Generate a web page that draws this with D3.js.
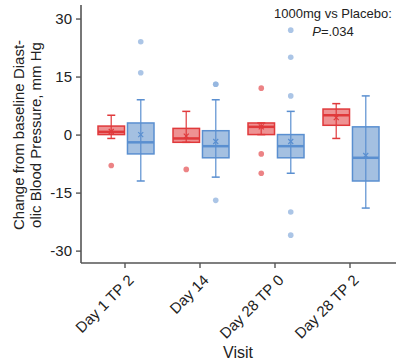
<!DOCTYPE html>
<html>
<head>
<meta charset="utf-8">
<script src="https://cdn.jsdelivr.net/npm/d3@7"></script>
<style>
  body { margin: 0; background: #fff; }
  svg text { font-family: "Liberation Sans", Arial, sans-serif; fill: #222; }
</style>
</head>
<body>
<div id="chart"></div>
<script>
var visits = ["Day 1 TP 2", "Day 14", "Day 28 TP 0", "Day 28 TP 2"]
var groups = ["1000mg", "Placebo"]
var yTicks = [-30, -15, 0, 15, 30]

// 1000mg (red) box stats per visit
var doseLow    = [-1, -2, 0, -1]
var doseQ1     = [0, -2, 0, 2.4]
var doseMedian = [0.7, -1, 2, 5]
var doseQ3     = [2.2, 1.6, 3, 6.6]
var doseHigh   = [5, 6, 3, 8]
var doseMean   = [0.8, -0.4, 2, 4.4]
var doseOut    = [[-8], [-9], [12, -5, -10], []]

// Placebo (blue) box stats per visit
var placLow    = [-12, -11, -10, -19]
var placQ1     = [-5, -6, -6, -12]
var placMedian = [-2, -3, -3, -6]
var placQ3     = [3, 1, 0, 2]
var placHigh   = [9, 9, 6, 10]
var placMean   = [0, -1.8, -1.8, -5.4]
var placOut    = [[24, 16], [13, 13, -17], [27, 20, 10, -20, -26], []]

var width = 410, height = 361

var svg = d3.select("#chart").append("svg")
    .attr("width", width)
    .attr("height", height)

var x = d3.scaleBand().domain(visits).range([87.5, 387.5])
var xSub = d3.scaleBand().domain(groups).range([-27, 29]).paddingInner(0.1)
var y = d3.scaleLinear().domain([-33.2, 33.5]).range([263, 5])

var colors = {
  "1000mg": { stroke: "#e0393b", fill: "rgba(224,57,59,0.55)", dot: "#e55a5c" },
  "Placebo": { stroke: "#5a8fd0", fill: "rgba(90,140,200,0.55)", dot: "#8fb2dd" }
}

function boxes(g) {
  var d = g == "1000mg"
    ? { lo: doseLow, q1: doseQ1, med: doseMedian, q3: doseQ3, hi: doseHigh, mean: doseMean, out: doseOut }
    : { lo: placLow, q1: placQ1, med: placMedian, q3: placQ3, hi: placHigh, mean: placMean, out: placOut }
  return visits.map(function(v, i) {
    return { visit: v, group: g, lo: d.lo[i], q1: d.q1[i], med: d.med[i], q3: d.q3[i],
             hi: d.hi[i], mean: d.mean[i], out: d.out[i] }
  })
}
var data = boxes("1000mg").concat(boxes("Placebo"))

function cx(d) { return x(d.visit) + x.bandwidth()/2 + xSub(d.group) + xSub.bandwidth()/2 }

var bw = xSub.bandwidth()
var capW = 8

var box = svg.selectAll("g.box")
    .data(data)
  .enter().append("g")
    .attr("class", "box")

box.append("rect")
    .attr("x", function(d) { return cx(d) - bw/2 })
    .attr("y", function(d) { return y(d.q3) })
    .attr("width", bw)
    .attr("height", function(d) { return Math.max(1, y(d.q1) - y(d.q3)) })
    .style("fill", function(d) { return colors[d.group].fill })
    .style("stroke", function(d) { return colors[d.group].stroke })
    .style("stroke-width", 1.5)

// whisker runs through the box
box.append("line")
    .attr("x1", cx).attr("x2", cx)
    .attr("y1", function(d) { return y(d.lo) })
    .attr("y2", function(d) { return y(d.hi) })
    .style("stroke", function(d) { return colors[d.group].stroke })
    .style("stroke-width", 1.5)
    .style("opacity", 0.8)

box.selectAll("line.cap")
    .data(function(d) { return [d.lo, d.hi].map(function(v) { return { v: v, d: d } }) })
  .enter().append("line")
    .attr("class", "cap")
    .attr("x1", function(c) { return cx(c.d) - capW/2 })
    .attr("x2", function(c) { return cx(c.d) + capW/2 })
    .attr("y1", function(c) { return y(c.v) })
    .attr("y2", function(c) { return y(c.v) })
    .style("stroke", function(c) { return colors[c.d.group].stroke })
    .style("stroke-width", 1.5)

box.append("line")
    .attr("x1", function(d) { return cx(d) - bw/2 })
    .attr("x2", function(d) { return cx(d) + bw/2 })
    .attr("y1", function(d) { return y(d.med) })
    .attr("y2", function(d) { return y(d.med) })
    .style("stroke", function(d) { return colors[d.group].stroke })
    .style("stroke-width", 2.5)

// mean as a little x
box.append("path")
    .attr("d", function(d) {
      var px = cx(d), py = y(d.mean), s = 2.5
      return "M"+(px-s)+","+(py-s)+"L"+(px+s)+","+(py+s)+"M"+(px-s)+","+(py+s)+"L"+(px+s)+","+(py-s)
    })
    .style("stroke", function(d) { return colors[d.group].stroke })
    .style("stroke-width", 1.2)

box.selectAll("circle.out")
    .data(function(d) { return d.out.map(function(v) { return { v: v, d: d } }) })
  .enter().append("circle")
    .attr("class", "out")
    .attr("cx", function(c) { return cx(c.d) })
    .attr("cy", function(c) { return y(c.v) })
    .attr("r", 2.8)
    .style("fill", function(c) { return colors[c.d.group].dot })
    .style("opacity", 0.75)

// axes
var yAxis = svg.append("g")
    .attr("transform", "translate(81,0)")
    .call(d3.axisLeft(y).tickValues(yTicks).tickSize(5).tickPadding(4)
      .tickFormat(function(d) { return String(d) }))
var xAxis = svg.append("g")
    .attr("transform", "translate(0,263)")
    .call(d3.axisBottom(x).tickSize(5).tickPadding(4))

yAxis.select(".domain").attr("d", "M0,5V263")
xAxis.select(".domain").attr("d", "M81,0H396")
svg.selectAll(".domain").style("stroke", "#555").style("stroke-width", 1.6)
svg.selectAll(".tick line").style("stroke", "#555").style("stroke-width", 1.4)
yAxis.selectAll("text").style("font-size", "15px").style("fill", "#222")
xAxis.selectAll("text")
    .style("font-size", "15px").style("fill", "#222")
    .attr("text-anchor", "end")
    .attr("dx", "-0.4em").attr("dy", "0.7em")
    .attr("transform", "rotate(-45)")

svg.append("text")
    .attr("x", 238).attr("y", 358)
    .attr("text-anchor", "middle")
    .style("font-size", "16px")
    .text("Visit")

var ylab = svg.append("text")
    .attr("transform", "translate(24,135) rotate(-90)")
    .attr("text-anchor", "middle")
    .style("font-size", "15px")
ylab.append("tspan").attr("x", 0).attr("dy", 0).text("Change from baseline Diast-")
ylab.append("tspan").attr("x", 0).attr("dy", 17).text("olic Blood Pressure, mm Hg")

svg.append("text")
    .attr("x", 333).attr("y", 18)
    .attr("text-anchor", "middle")
    .style("font-size", "13px")
    .text("1000mg vs Placebo:")
var pv = svg.append("text")
    .attr("x", 333).attr("y", 36)
    .attr("text-anchor", "middle")
    .style("font-size", "13px")
pv.append("tspan").style("font-style", "italic").text("P")
pv.append("tspan").text("=.034")
</script>
</body>
</html>
